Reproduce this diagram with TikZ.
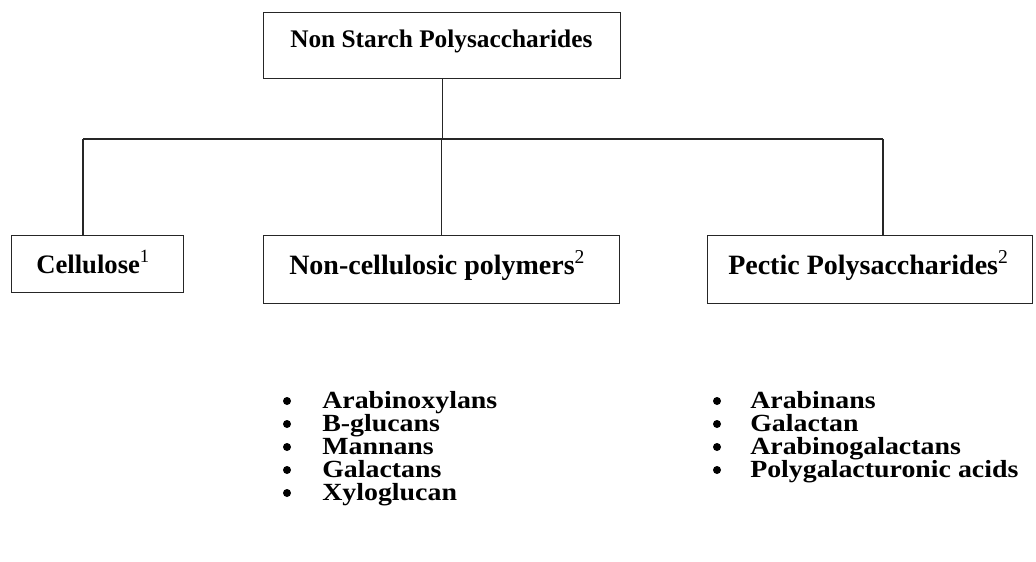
\documentclass[tikz,border=0pt]{standalone}
\usepackage{fontspec}
\setmainfont{Liberation Serif}
\newfontfamily\listfont[FakeStretch=1.13]{Liberation Serif}
\begin{document}
\begin{tikzpicture}[x=0.75pt,y=-0.75pt,
  box/.style={draw=black!85,line width=1pt,rectangle,inner sep=0pt,anchor=north west},
  link/.style={draw=black!85,line width=1pt},
  ttl/.style={anchor=base west,inner sep=0pt,font=\bfseries},
  itm/.style={anchor=base west,inner sep=0pt,font=\listfont\bfseries\fontsize{18.5}{20}\selectfont},
  bul/.style={circle,fill=black,inner sep=0pt,minimum size=6pt}]
\useasboundingbox[fill=white] (0,0) rectangle (1036,561);
% boxes
\node[box,minimum width=267.75pt,minimum height=49.5pt] (top) at (263,12) {};
\node[box,minimum width=129pt,minimum height=42.75pt] (cel) at (11,235) {};
\node[box,minimum width=267pt,minimum height=51pt] (ncp) at (263,235) {};
\node[box,minimum width=243.75pt,minimum height=51pt] (pec) at (707,235) {};
% titles
\node[ttl,font=\bfseries\fontsize{19}{22}\selectfont] (ttop) at (290,47) {Non Starch Polysaccharides};
\node[ttl,font=\bfseries\fontsize{20}{24}\selectfont] (tcel) at (36,273) {Cellulose\textsuperscript{\normalfont 1}};
\node[ttl,font=\bfseries\fontsize{21}{25}\selectfont] (tncp) at (289,274) {Non-cellulosic polymers\textsuperscript{\normalfont 2}};
\node[ttl,font=\bfseries\fontsize{21}{25}\selectfont] (tpec) at (728,274) {Pectic Polysaccharides\textsuperscript{\normalfont 2}};
% connectors
\coordinate (hl) at (83,139);
\coordinate (hr) at (883,139);
\draw[link] (top.south) -- (top.south |- hl);
\draw[link] (hl) -- (hr);
\draw[link] (hl) -- (hl |- cel.north);
\draw[link] (ncp.north |- hl) -- (ncp.north);
\draw[link] (hr) -- (hr |- pec.north);
% left list
\foreach \t/\y [count=\i] in {Arabinoxylans/408,B-glucans/431,Mannans/454,Galactans/477,Xyloglucan/500}{
  \node[bul] (lb\i) at (287,\y-7) {};
  \node[itm] (li\i) at (322,\y) {\t};
}
% right list
\foreach \t/\y [count=\i] in {Arabinans/408,Galactan/431,Arabinogalactans/454,Polygalacturonic acids/477}{
  \node[bul] (rb\i) at (717,\y-7) {};
  \node[itm] (ri\i) at (750,\y) {\t};
}
\end{tikzpicture}
\end{document}
